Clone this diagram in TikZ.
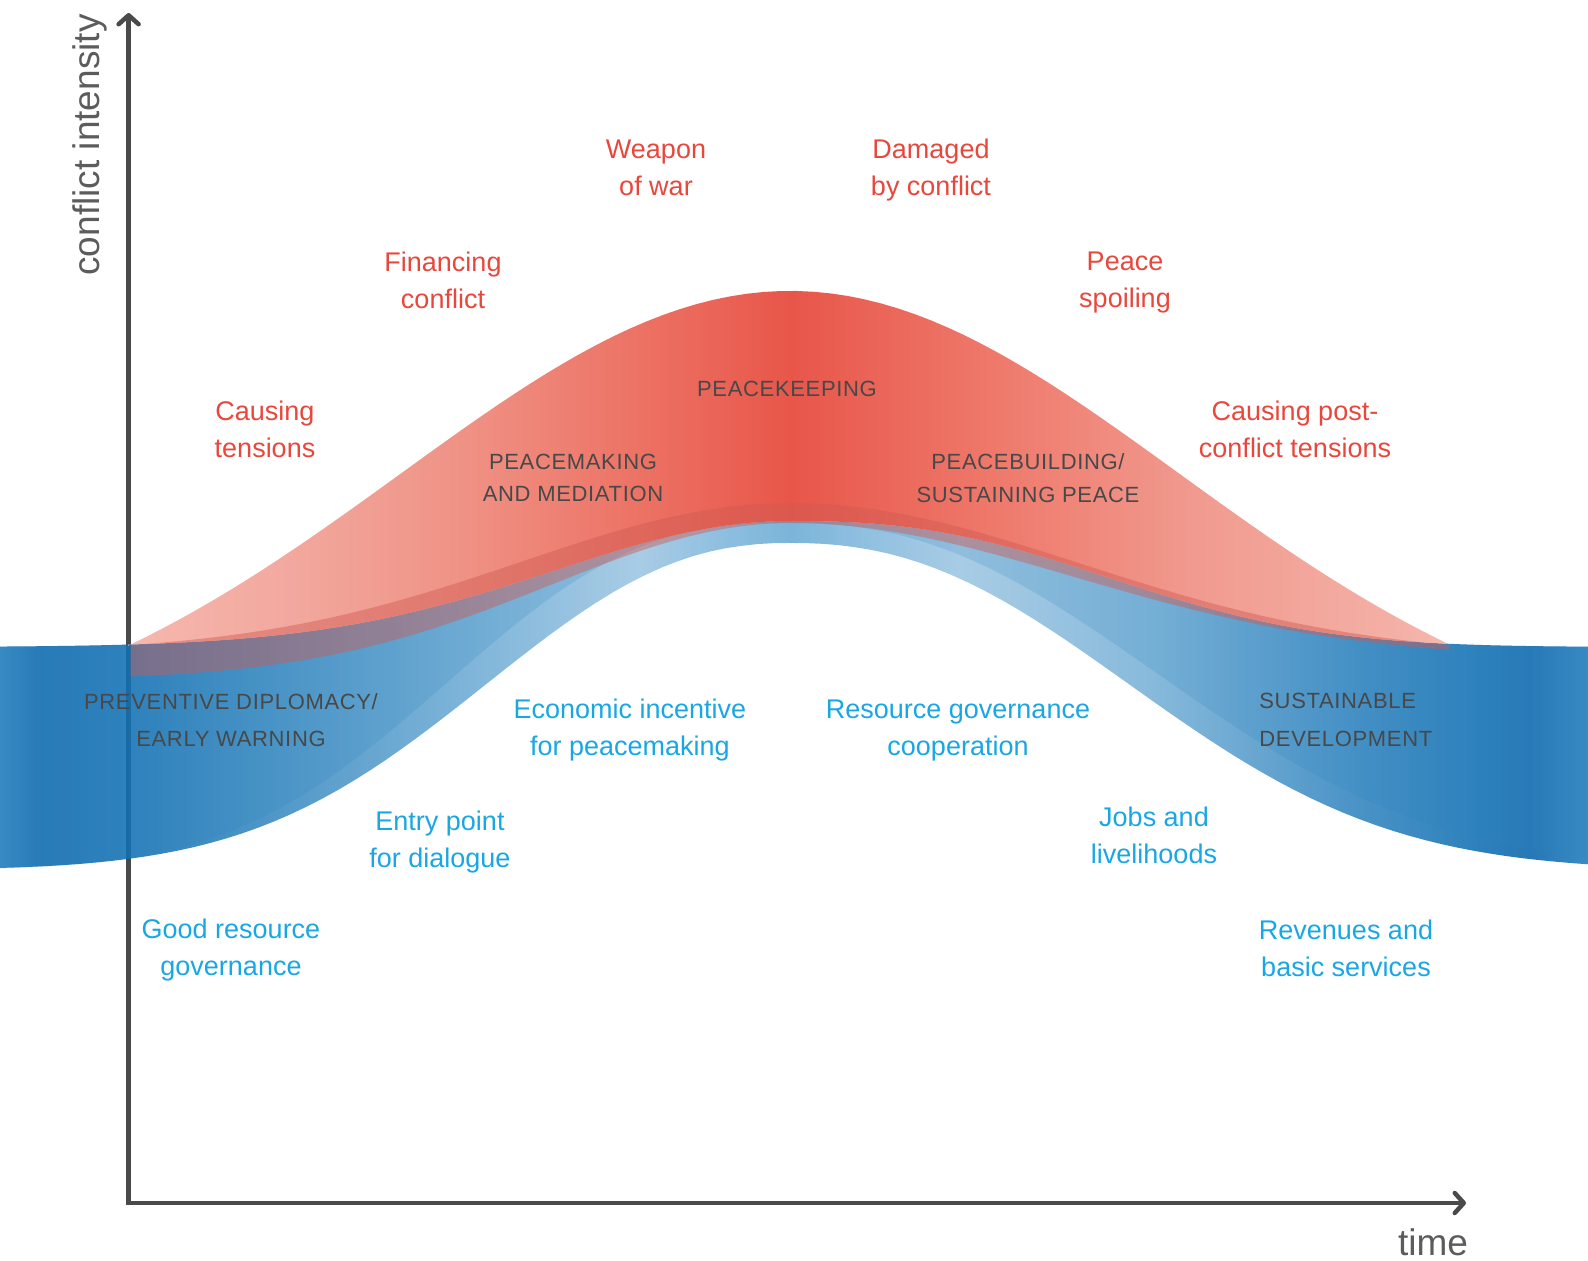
\documentclass[tikz,border=0pt]{standalone}
\usepackage{fontspec}
\setmainfont{Liberation Sans}
\newfontfamily\capsfont[LetterSpace=3]{Liberation Sans}
\usetikzlibrary{arrows.meta}

% Farben
\definecolor{redtxt}{HTML}{E8473C}
\definecolor{bluetxt}{HTML}{19A7E3}
\definecolor{greytxt}{HTML}{484848}
\definecolor{axisgrey}{HTML}{4A4A4A}
\definecolor{labelgrey}{HTML}{5C5C5C}
\definecolor{stripe}{HTML}{D05A52}
\definecolor{bluelayer}{HTML}{2F86C0}

\definecolor{bA}{HTML}{1777B9}
\definecolor{bB}{HTML}{0061A9}
\definecolor{bC}{HTML}{0A6BB0}
\definecolor{bD}{HTML}{398AC1}
\definecolor{bE}{HTML}{71ADD5}
\definecolor{bF}{HTML}{99C3E0}
\definecolor{bG}{HTML}{7BB4DB}
\definecolor{bH}{HTML}{64A7D2}
\definecolor{bI}{HTML}{73AED5}
\definecolor{bJ}{HTML}{2C81BD}
\definecolor{bK}{HTML}{086AB0}
\definecolor{bL}{HTML}{0060A9}

\definecolor{rL}{HTML}{F6B8AE}
\definecolor{rA}{HTML}{F2A79D}
\definecolor{rB}{HTML}{EF9184}
\definecolor{rC}{HTML}{EC7264}
\definecolor{rM}{HTML}{E8564A}
\definecolor{rD}{HTML}{EE7A6C}
\definecolor{rE}{HTML}{F19B90}
\definecolor{rF}{HTML}{F4B0A6}

\pgfdeclarehorizontalshading{bluebandshade}{100bp}{color(0bp)=(bA); color(25bp)=(bA);
  color(26.26bp)=(bB); color(29bp)=(bC); color(34.45bp)=(bD); color(40.75bp)=(bE);
  color(45.15bp)=(bF); color(47.67bp)=(bG); color(49.87bp)=(bH); color(52.08bp)=(bG);
  color(55.23bp)=(bF); color(61.21bp)=(bI); color(67.51bp)=(bJ); color(71.6bp)=(bK);
  color(73.17bp)=(bL); color(75bp)=(bA); color(100bp)=(bA)}
\pgfdeclarehorizontalshading{redbellshade}{100bp}{color(0bp)=(rL); color(25bp)=(rL);
  color(31.5bp)=(rA); color(37.9bp)=(rB); color(44.4bp)=(rC); color(50.06bp)=(rM);
  color(58bp)=(rD); color(65.6bp)=(rE); color(73.1bp)=(rF); color(75bp)=(rL); color(100bp)=(rL)}

\tikzset{
  declare function={
    % Kurven, links (l) und rechts (r) der Spitze bei x=790
    mtl(\x)=647-126*exp(-(abs(\x-790)/333)^2);
    mtr(\x)=647-126*exp(-((abs(\x-790)+0.5)/392)^2.5);
    wbl(\x)=870-327*exp(-((abs(\x-790)+0.5)/390)^2.3);
    wbr(\x)=870-327*exp(-((abs(\x-790)+0.5)/435)^2.3);
    kl(\x)=870-347*exp(-((abs(\x-790)+0.5)/414)^2.6);
    kr(\x)=870-347*exp(-((abs(\x-790)+0.5)/470)^2.3);
    bell(\x)=645-354*(exp(-(abs(\x-790)/550)^2)-0.2365)/0.7635;
    rtl(\x)=645-142*(exp(-(abs(\x-790)/380)^2)-0.049)/0.951;
    rtr(\x)=645-142*(exp(-(abs(\x-790)/410)^2)-0.0756)/0.9244;
    rbl(\x)=680-157*exp(-(abs(\x-790)/338)^2);
    rbr(\x)=650-127*(exp(-(abs(\x-790)/400)^2)-0.066)/0.934;
  },
  axisline/.style={draw=axisgrey, line width=2.25pt},
  blueband/.style={shading=bluebandshade, fill opacity=0.85},
  bluelayerband/.style={fill=bluelayer, fill opacity=0.2},
  redbell/.style={shading=redbellshade},
  redstripe/.style={fill=stripe, fill opacity=0.45},
  redlbl/.style={text=redtxt, align=center, inner sep=0pt, font=\fontsize{13.5}{18.5}\selectfont},
  bluelbl/.style={text=bluetxt, align=center, inner sep=0pt, font=\fontsize{13.5}{18.5}\selectfont},
  phaselbl/.style={text=greytxt, align=center, inner sep=0pt, font=\capsfont\fontsize{11}{16.2}\selectfont},
  widephaselbl/.style={phaselbl, font=\capsfont\fontsize{11}{18.7}\selectfont},
  axislbl/.style={text=labelgrey, inner sep=0pt, font=\fontsize{18.5}{22}\selectfont}
}

\begin{document}
\begin{tikzpicture}[x=0.5pt, y=-0.5pt]
  \useasboundingbox (0,0) rectangle (1588,1261);

  % Achsen
  \coordinate (origin) at (128.6,1203);
  \coordinate (ytip) at (128.6,13);
  \coordinate (xtip) at (1466,1203);
  \draw[axisline, {Straight Barb[length=4.5pt, width=10pt, round]}-{Straight Barb[length=4.5pt, width=10pt, round]}]
    (ytip) -- (origin) -- (xtip);

  % blaues Band
  \shade[blueband] plot[domain=0:790, samples=50] (\x, {mtl(\x)}) -- plot[domain=790:1588, samples=50] (\x, {mtr(\x)})
    -- plot[domain=1588:790, samples=50] (\x, {wbr(\x)}) -- plot[domain=790:0, samples=50] (\x, {wbl(\x)}) -- cycle;
  \fill[bluelayerband] plot[domain=0:790, samples=50] (\x, {mtl(\x)}) -- plot[domain=790:1588, samples=50] (\x, {mtr(\x)})
    -- plot[domain=1588:790, samples=50] (\x, {kr(\x)}) -- plot[domain=790:0, samples=50] (\x, {kl(\x)}) -- cycle;

  % rote Glocke
  \shade[redbell] plot[domain=128:1449, samples=80] (\x, {bell(\x)})
    -- plot[domain=1449:790, samples=40] (\x, {mtr(\x)}) -- plot[domain=790:128, samples=40] (\x, {mtl(\x)}) -- cycle;
  \fill[redstripe] plot[domain=130.5:790, samples=40] (\x, {rtl(\x)}) -- plot[domain=790:1449, samples=40] (\x, {rtr(\x)})
    -- plot[domain=1449:790, samples=40] (\x, {rbr(\x)}) -- plot[domain=790:130.5, samples=40] (\x, {rbl(\x)}) -- cycle;

  % Beschriftungen oben
  \node[redlbl] (weapon) at (656,168) {Weapon\\of war};
  \node[redlbl] (damaged) at (931,170) {Damaged\\by conflict};
  \node[redlbl] (financing) at (443,280) {Financing\\conflict};
  \node[redlbl] (spoiling) at (1125,283) {Peace\\spoiling};
  \node[redlbl] (causing) at (265,429) {Causing\\tensions};
  \node[redlbl] (postconflict) at (1295,429) {Causing post-\\conflict tensions};

  % Phasen
  \node[phaselbl] (keeping) at (787,389) {PEACEKEEPING};
  \node[phaselbl] (making) at (573,478) {PEACEMAKING\\AND MEDIATION};
  \node[phaselbl] (building) at (1028,478) {PEACEBUILDING/\\SUSTAINING PEACE};
  \node[widephaselbl] (preventive) at (231,720) {PREVENTIVE DIPLOMACY/\\EARLY WARNING};
  \node[widephaselbl, align=left, anchor=west] (sustainable) at (1259,720) {SUSTAINABLE\\DEVELOPMENT};

  % Beschriftungen unten
  \node[bluelbl] (economic) at (630,730) {Economic incentive\\for peacemaking};
  \node[bluelbl] (resource) at (958,731) {Resource governance\\cooperation};
  \node[bluelbl] (entry) at (440,842) {Entry point\\for dialogue};
  \node[bluelbl] (jobs) at (1154,835) {Jobs and\\livelihoods};
  \node[bluelbl] (goodgov) at (231,950) {Good resource\\governance};
  \node[bluelbl] (revenues) at (1346,948) {Revenues and\\basic services};

  % Achsenbeschriftung
  \node[axislbl, rotate=90] (ylabel) at (90,145) {conflict intensity};
  \node[axislbl] (xlabel) at (1433,1242) {time};
\end{tikzpicture}
\end{document}
